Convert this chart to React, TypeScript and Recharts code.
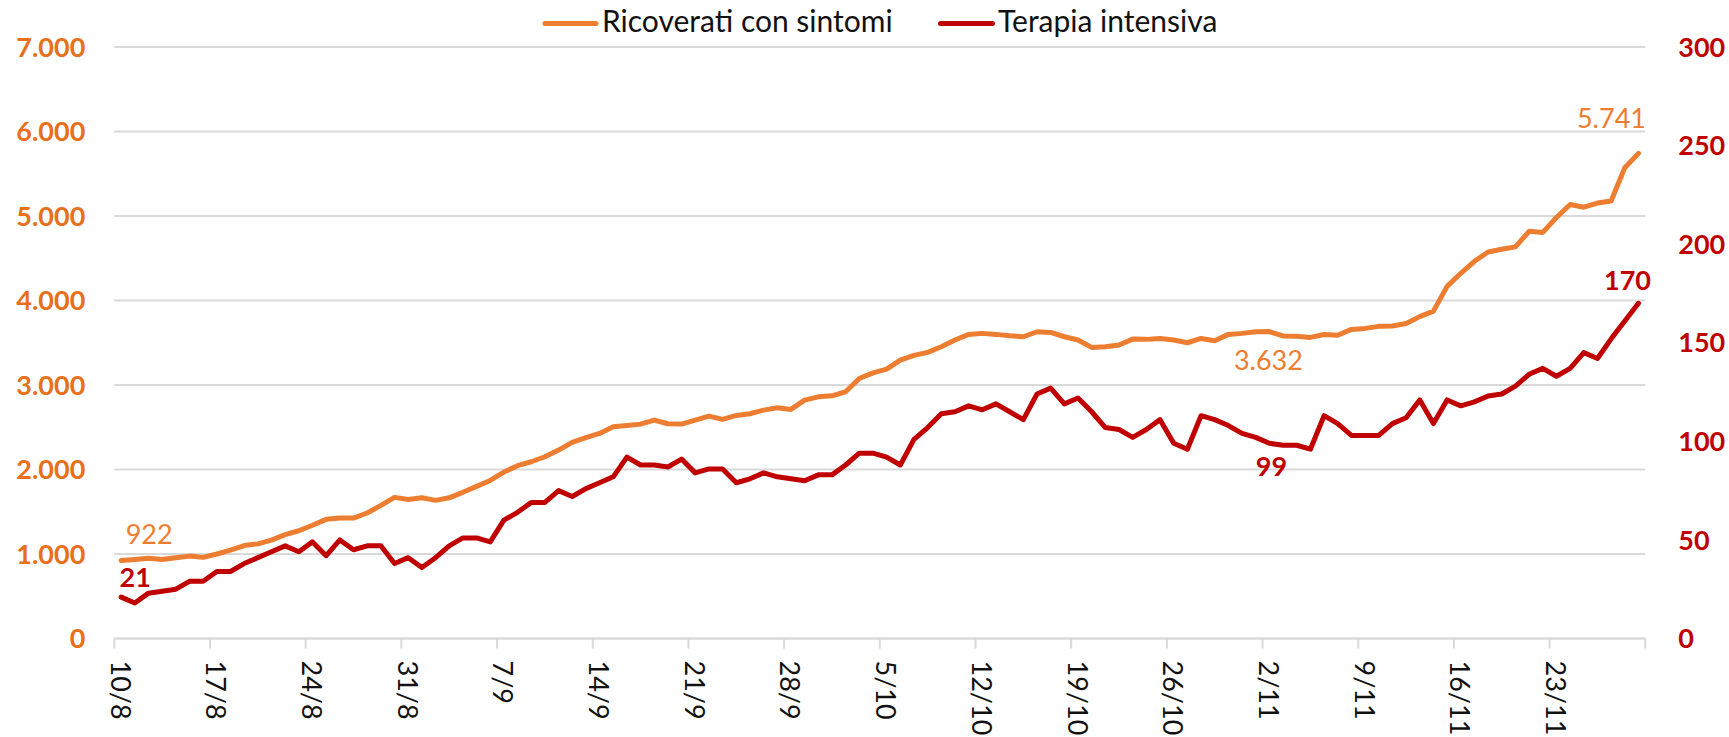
import { LineChart, Line, XAxis, YAxis, CartesianGrid, Legend, LabelList } from "recharts";

// daily categories, 10 Aug -> 29 Nov
const DATES = [
  "10/8", "11/8", "12/8", "13/8", "14/8", "15/8", "16/8", "17/8", "18/8", "19/8", "20/8",
  "21/8", "22/8", "23/8", "24/8", "25/8", "26/8", "27/8", "28/8", "29/8", "30/8", "31/8",
  "1/9", "2/9", "3/9", "4/9", "5/9", "6/9", "7/9", "8/9", "9/9", "10/9", "11/9", "12/9",
  "13/9", "14/9", "15/9", "16/9", "17/9", "18/9", "19/9", "20/9", "21/9", "22/9", "23/9",
  "24/9", "25/9", "26/9", "27/9", "28/9", "29/9", "30/9",
  "1/10", "2/10", "3/10", "4/10", "5/10", "6/10", "7/10", "8/10", "9/10", "10/10", "11/10",
  "12/10", "13/10", "14/10", "15/10", "16/10", "17/10", "18/10", "19/10", "20/10", "21/10",
  "22/10", "23/10", "24/10", "25/10", "26/10", "27/10", "28/10", "29/10", "30/10", "31/10",
  "1/11", "2/11", "3/11", "4/11", "5/11", "6/11", "7/11", "8/11", "9/11", "10/11", "11/11",
  "12/11", "13/11", "14/11", "15/11", "16/11", "17/11", "18/11", "19/11", "20/11", "21/11",
  "22/11", "23/11", "24/11", "25/11", "26/11", "27/11", "28/11", "29/11",
];

const TICK_LABELS = [
  "10/8", "17/8", "24/8", "31/8", "7/9", "14/9", "21/9", "28/9",
  "5/10", "12/10", "19/10", "26/10", "2/11", "9/11", "16/11", "23/11",
];

const RICOVERATI = [
  922, 935, 950, 935, 955, 975, 960, 1000, 1045, 1100,
  1120, 1165, 1230, 1275, 1340, 1410, 1425, 1425, 1485, 1575,
  1670, 1645, 1665, 1635, 1665, 1730, 1800, 1870, 1970, 2045,
  2092, 2151, 2230, 2321, 2376, 2427, 2506, 2522, 2537, 2585,
  2541, 2537, 2585, 2632, 2593, 2640, 2660, 2703, 2730, 2711,
  2821, 2860, 2872, 2920, 3077, 3144, 3187, 3295, 3350, 3386,
  3453, 3532, 3599, 3611, 3599, 3583, 3571, 3630, 3622, 3571,
  3532, 3445, 3453, 3473, 3543, 3540, 3551, 3532, 3500, 3551,
  3524, 3599, 3611, 3630, 3632, 3580, 3578, 3563, 3597, 3589,
  3658, 3670, 3694, 3699, 3727, 3809, 3874, 4167, 4322, 4464,
  4574, 4607, 4635, 4819, 4806, 4982, 5136, 5104, 5153, 5177,
  5572, 5741,
];

const TERAPIA = [
  21, 18, 23, 24, 25, 29, 29, 34, 34, 38,
  41, 44, 47, 44, 49, 42, 50, 45, 47, 47,
  38, 41, 36, 41, 47, 51, 51, 49, 60, 64,
  69, 69, 75, 72, 76, 79, 82, 92, 88, 88,
  87, 91, 84, 86, 86, 79, 81, 84, 82, 81,
  80, 83, 83, 88, 94, 94, 92, 88, 101, 107,
  114, 115, 118, 116, 119, 115, 111, 124, 127, 119,
  122, 115, 107, 106, 102, 106, 111, 99, 96, 113,
  111, 108, 104, 102, 99, 98, 98, 96, 113, 109,
  103, 103, 103, 109, 112, 121, 109, 121, 118, 120,
  123, 124, 128, 134, 137, 133, 137, 145, 142, 152,
  161, 170,
];

const LEFT_TICKS = [0, 1000, 2000, 3000, 4000, 5000, 6000, 7000];
const RIGHT_TICKS = [0, 50, 100, 150, 200, 250, 300];

const ORANGE = "#ED7D31";
const ORANGE_AXIS = "#E8701A";
const RED = "#C00000";
const GRID = "#D9D9D9";
const FONT = "Lato, sans-serif";

const W = 1729;
const H = 737;
const PLOT_LEFT = 114.3;
const PLOT_RIGHT = 1645.3;
const PLOT_TOP = 47;
const PLOT_BOTTOM = 638.5;
const HALF_DAY = (PLOT_RIGHT - PLOT_LEFT) / DATES.length / 2;

const rows = DATES.map((date, i) => ({
  idx: i,
  date,
  ricoverati: RICOVERATI[i],
  terapia: TERAPIA[i],
}));

// tick marks sit on category boundaries, labels on the category centre
const X_TICKS = [...TICK_LABELS.map((d) => DATES.indexOf(d) - 0.5), DATES.length - 0.5];

const fmt = (v: number) => String(v).replace(/\B(?=(\d{3})+(?!\d))/g, ".");

// which points get a value label, and where it goes relative to the point
const ORANGE_LABELS: Record<number, { dx: number; dy: number }> = {
  0: { dx: 28, dy: -17 },
  84: { dx: -1, dy: 38 },
  111: { dx: -27, dy: -25 },
};
const RED_LABELS: Record<number, { dx: number; dy: number }> = {
  0: { dx: 14, dy: -10 },
  84: { dx: 2, dy: 33 },
  111: { dx: -11, dy: -13 },
};

function makeLabel(conf: Record<number, { dx: number; dy: number }>, color: string, weight: number) {
  return (props: any) => {
    const { x, y, value, index } = props;
    const c = conf[index];
    if (!c) return null;
    return (
      <text
        x={x + c.dx}
        y={y + c.dy}
        textAnchor="middle"
        fill={color}
        fontFamily={FONT}
        fontSize={27}
        fontWeight={weight}
      >
        {fmt(value)}
      </text>
    );
  };
}

function DateTick(props: any) {
  const { x, payload } = props;
  const label = DATES[Math.round(payload.value + 0.5)];
  if (!label) return null;
  const cx = x + HALF_DAY;
  const cy = PLOT_BOTTOM + 22;
  return (
    <text
      x={cx}
      y={cy}
      transform={`rotate(90, ${cx}, ${cy})`}
      textAnchor="start"
      dominantBaseline="central"
      fill="#111"
      fontFamily={FONT}
      fontSize={27}
    >
      {label}
    </text>
  );
}

function LegendBox() {
  return (
    <svg width={W} height={PLOT_TOP} style={{ display: "block" }}>
      <line x1={545} x2={596} y1={23.5} y2={23.5} stroke={ORANGE} strokeWidth={5} strokeLinecap="round" />
      <text x={602} y={32} fontFamily={FONT} fontSize={30} fill="#111">
        Ricoverati con sintomi
      </text>
      <line x1={940.5} x2={992.5} y1={23.5} y2={23.5} stroke={RED} strokeWidth={5} strokeLinecap="round" />
      <text x={998} y={32} fontFamily={FONT} fontSize={30} fill="#111">
        Terapia intensiva
      </text>
    </svg>
  );
}

export default function App() {
  return (
    <div style={{ position: "absolute", left: 0, top: 0, width: W, height: H, background: "#fff" }}>
      <LineChart width={W} height={H} data={rows} margin={{ top: 0, right: 0, bottom: 0, left: 0 }}>
        <Legend verticalAlign="top" align="left" content={() => <LegendBox />} />
        <CartesianGrid yAxisId="left" vertical={false} stroke={GRID} strokeWidth={2} />
        <XAxis
          dataKey="idx"
          type="number"
          domain={[-0.5, DATES.length - 0.5]}
          ticks={X_TICKS}
          interval={0}
          height={H - PLOT_BOTTOM}
          stroke={GRID}
          strokeWidth={2}
          tickSize={10}
          tick={<DateTick />}
        />
        <YAxis
          yAxisId="left"
          domain={[0, 7000]}
          ticks={LEFT_TICKS}
          width={PLOT_LEFT}
          axisLine={false}
          tickLine={false}
          tickSize={0}
          tickMargin={29}
          tickFormatter={fmt}
          tick={{ fill: ORANGE_AXIS, fontFamily: FONT, fontSize: 27, fontWeight: 700 }}
        />
        <YAxis
          yAxisId="right"
          orientation="right"
          domain={[0, 300]}
          ticks={RIGHT_TICKS}
          width={W - PLOT_RIGHT}
          axisLine={false}
          tickLine={false}
          tickSize={0}
          tickMargin={33}
          tick={{ fill: RED, fontFamily: FONT, fontSize: 27, fontWeight: 700 }}
        />
        <Line
          yAxisId="left"
          dataKey="ricoverati"
          name="Ricoverati con sintomi"
          type="linear"
          stroke={ORANGE}
          strokeWidth={5}
          strokeLinejoin="round"
          strokeLinecap="round"
          dot={false}
          isAnimationActive={false}
        >
          <LabelList dataKey="ricoverati" content={makeLabel(ORANGE_LABELS, ORANGE, 400)} />
        </Line>
        <Line
          yAxisId="right"
          dataKey="terapia"
          name="Terapia intensiva"
          type="linear"
          stroke={RED}
          strokeWidth={5}
          strokeLinejoin="round"
          strokeLinecap="round"
          dot={false}
          isAnimationActive={false}
        >
          <LabelList dataKey="terapia" content={makeLabel(RED_LABELS, RED, 700)} />
        </Line>
      </LineChart>
    </div>
  );
}
